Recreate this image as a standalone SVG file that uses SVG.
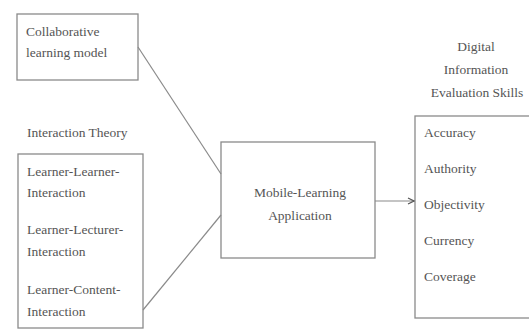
<svg xmlns="http://www.w3.org/2000/svg" width="529" height="329" viewBox="0 0 529 329">
<style>
.box{fill:none;stroke:#8a8a8a;stroke-width:1.3}
.t{font-family:'Liberation Serif','DejaVu Serif','Times New Roman',serif;font-size:13.5px;fill:#555}
.c{text-anchor:middle}
.ln{stroke:#8a8a8a;stroke-width:1.2;fill:none}
</style>
<defs>
<marker id="ah" markerWidth="8" markerHeight="8" refX="7" refY="4" orient="auto" markerUnits="userSpaceOnUse">
<path d="M1,1 L7,4 L1,7" fill="none" stroke="#555" stroke-width="1.2"/>
</marker>
</defs>
<g id="collab">
<rect class="box" x="17" y="14" width="121" height="66"/>
<text class="t" x="26" y="36">Collaborative</text>
<text class="t" x="26" y="57">learning model</text>
</g>
<g id="interaction">
<text class="t" x="27" y="137">Interaction Theory</text>
<rect class="box" x="18" y="154" width="125" height="174"/>
<text class="t" x="27" y="176">Learner-Learner-</text>
<text class="t" x="27" y="197">Interaction</text>
<text class="t" x="27" y="234">Learner-Lecturer-</text>
<text class="t" x="27" y="256">Interaction</text>
<text class="t" x="27" y="294">Learner-Content-</text>
<text class="t" x="27" y="316">Interaction</text>
</g>
<g id="mobile">
<rect class="box" x="221" y="142" width="154" height="116"/>
<text class="t c" x="300" y="197">Mobile-Learning</text>
<text class="t c" x="300" y="220">Application</text>
</g>
<g id="skills">
<text class="t c" x="476" y="51">Digital</text>
<text class="t c" x="476" y="74">Information</text>
<text class="t c" x="477" y="97">Evaluation Skills</text>
<rect class="box" x="415" y="116" width="118" height="202"/>
<text class="t" x="424" y="137">Accuracy</text>
<text class="t" x="424" y="173">Authority</text>
<text class="t" x="424" y="209">Objectivity</text>
<text class="t" x="424" y="245">Currency</text>
<text class="t" x="424" y="281">Coverage</text>
</g>
<g id="connectors">
<line class="ln" x1="138" y1="47" x2="221" y2="174"/>
<line class="ln" x1="143" y1="310" x2="221" y2="215"/>
<line class="ln" x1="375" y1="201" x2="414" y2="201" marker-end="url(#ah)"/>
</g>
</svg>
